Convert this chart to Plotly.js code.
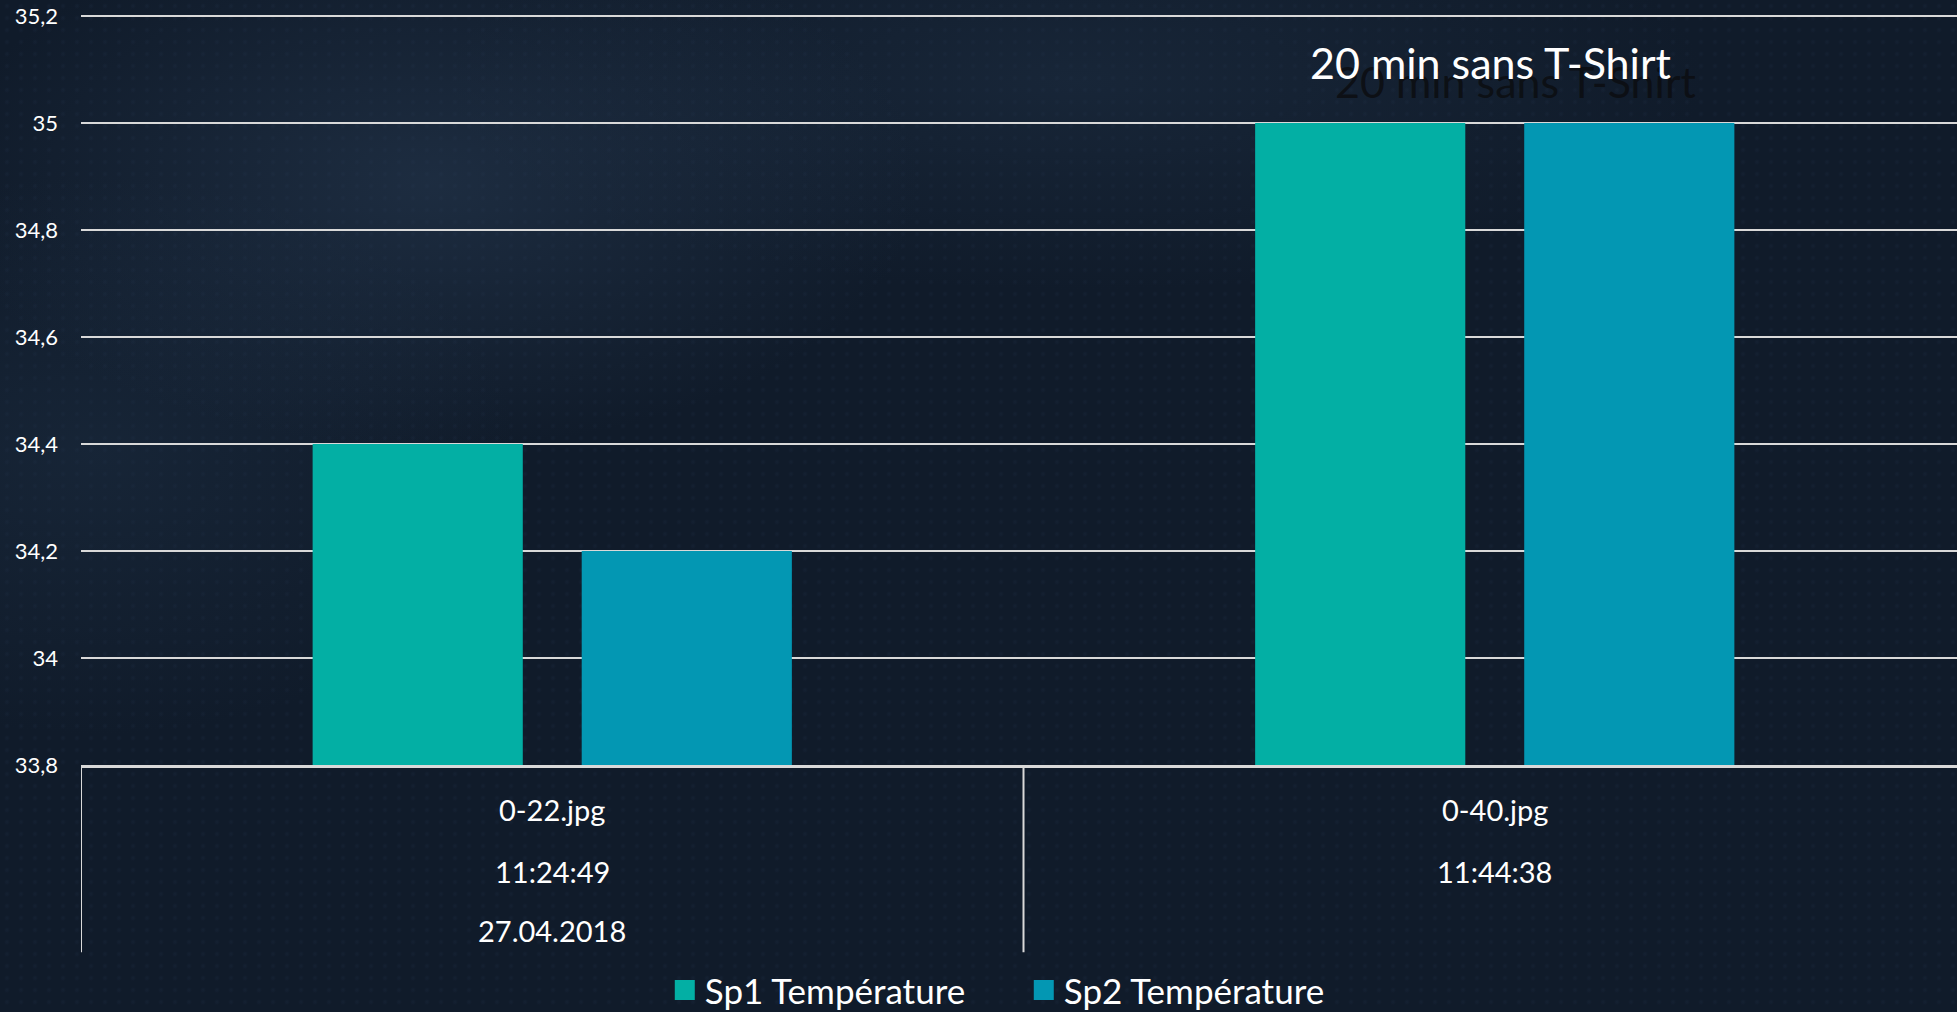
<!DOCTYPE html>
<html>
<head>
<meta charset="utf-8">
<script src="https://cdn.plot.ly/plotly-3.0.1.min.js"></script>
<style>
  html, body { margin: 0; padding: 0; width: 1957px; height: 1012px; overflow: hidden; }
  body {
    background-color: #101b2a;
    background-image:
      radial-gradient(ellipse 700px 380px at 22% 18%, rgba(45,66,92,0.45), rgba(45,66,92,0) 70%),
      radial-gradient(ellipse 900px 300px at 55% 8%, rgba(38,58,82,0.35), rgba(38,58,82,0) 70%),
      radial-gradient(ellipse 600px 400px at 5% 45%, rgba(35,55,78,0.35), rgba(35,55,78,0) 70%),
      radial-gradient(circle 3px at 50% 50%, rgba(60,85,112,0.12), rgba(60,85,112,0) 100%);
    background-size: 100% 100%, 100% 100%, 100% 100%, 14px 12px;
  }
  #chart { width: 1966px; height: 1012px; }
</style>
</head>
<body>
<div id="chart"></div>
<script>
// ---- data ----
const categories = ['0-22.jpg', '0-40.jpg'];
const timeLabels = ['11:24:49', '11:44:38'];
const dateLabels = ['27.04.2018', ''];
const seriesNames = ['Sp1 Température', 'Sp2 Température'];
const sp1Values = [34.4, 35];
const sp2Values = [34.2, 35];
const yTickValues = [33.8, 34, 34.2, 34.4, 34.6, 34.8, 35, 35.2];
const yTickLabels = ['33,8', '34', '34,2', '34,4', '34,6', '34,8', '35', '35,2'];
const chartTitle = '20 min sans T-Shirt';

// ---- styles ----
const FONT = 'Lato, "Open Sans", sans-serif';
const colors = ['#03afa4', '#0397b3'];
const gridColor = '#d9d9d9';

const traces = [
  { type: 'bar', name: seriesNames[0], x: categories, y: sp1Values, marker: { color: colors[0] }, hoverinfo: 'skip' },
  { type: 'bar', name: seriesNames[1], x: categories, y: sp2Values, marker: { color: colors[1] }, hoverinfo: 'skip' }
];

// category axis labels (three rows)
const annotations = [];
const rowY = [-0.0587, -0.1415, -0.2203];
categories.forEach((c, i) => {
  [c, timeLabels[i], dateLabels[i]].forEach((t, r) => {
    if (!t) return;
    annotations.push({
      xref: 'x', yref: 'paper', x: c, y: rowY[r],
      text: t, showarrow: false, xanchor: 'center', yanchor: 'middle',
      font: { family: FONT, size: 29, color: '#ffffff' }
    });
  });
});
// title ghost + title
annotations.push({
  xref: 'paper', yref: 'paper', x: 0.761, y: 0.9119, text: chartTitle, showarrow: false,
  xanchor: 'center', yanchor: 'middle', font: { family: FONT, size: 43, color: 'rgba(12,14,18,0.9)' }
});
annotations.push({
  xref: 'paper', yref: 'paper', x: 0.7475, y: 0.9372, text: chartTitle, showarrow: false,
  xanchor: 'center', yanchor: 'middle', font: { family: FONT, size: 43, color: '#ffffff' }
});

// category separator lines
const catH = (952 - 765) / 749;
const shapes = [-0.5, 0.5].map(xv => ({
  type: 'line', xref: 'x', yref: 'paper', x0: xv, x1: xv, y0: 0, y1: -catH,
  line: { color: gridColor, width: 2 }
}));

const layout = {
  width: 1966, height: 1012,
  margin: { l: 81, r: 0, t: 15, b: 247, autoexpand: false },
  paper_bgcolor: 'rgba(0,0,0,0)', plot_bgcolor: 'rgba(0,0,0,0)',
  barmode: 'group', bargap: 0.429, bargroupgap: 0.219,
  font: { family: FONT, color: '#ffffff' },
  xaxis: {
    type: 'category', range: [-0.5, 1.5], showticklabels: false, showgrid: false,
    showline: true, linecolor: gridColor, linewidth: 2.5, zeroline: false, fixedrange: true
  },
  yaxis: {
    range: [33.8, 35.2019], tickmode: 'array', tickvals: yTickValues, ticktext: yTickLabels,
    showgrid: true, gridcolor: gridColor, gridwidth: 2.5, showline: false, zeroline: false,
    ticks: '', ticklabelstandoff: 22, tickfont: { family: FONT, size: 22, color: '#ffffff' }, fixedrange: true
  },
  showlegend: true,
  legend: {
    orientation: 'h', x: 0.3097, y: -0.3004, xanchor: 'left', yanchor: 'middle',
    font: { family: FONT, size: 35, color: '#ffffff' }, bgcolor: 'rgba(0,0,0,0)',
    entrywidth: 314, entrywidthmode: 'pixels', traceorder: 'normal'
  },
  annotations: annotations,
  shapes: shapes
};

Plotly.newPlot('chart', traces, layout, { staticPlot: true, displayModeBar: false }).then(gd => {
  gd.querySelectorAll('.legendpoints path').forEach(p => p.setAttribute('d', 'M10,10H-10V-10H10Z'));
});
</script>
</body>
</html>
